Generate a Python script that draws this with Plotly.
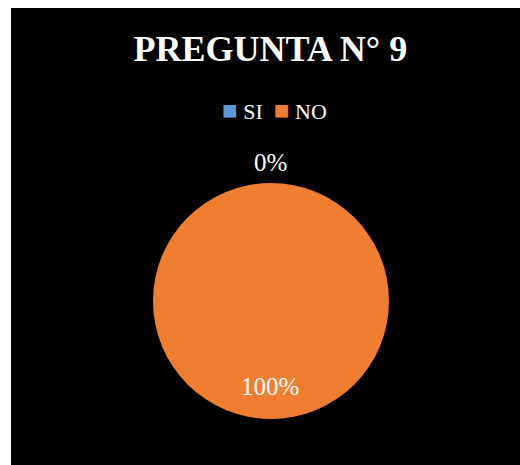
import plotly.graph_objects as go

# Survey answers for question 9
categories = ["SI", "NO"]
counts = [0, 100]
colors = ["#5B9BD5", "#EF7E30"]

W, H = 520, 465
total = sum(counts)
percents = [round(100 * c / total) for c in counts]

fig = go.Figure(
    go.Pie(
        labels=categories,
        values=counts,
        marker=dict(colors=colors, line=dict(width=0)),
        textinfo="none",
        sort=False,
        direction="clockwise",
        rotation=0,
        hoverinfo="label+percent",
        showlegend=False,
        domain=dict(x=[153 / W, 389 / W], y=[1 - 419 / H, 1 - 183 / H]),
    )
)

serif = "Liberation Serif, Times New Roman, serif"

# Black chart area with a thin white margin on the left and top
fig.add_shape(
    type="rect", xref="paper", yref="paper",
    x0=11 / W, x1=1.0, y0=0.0, y1=1 - 8 / H,
    fillcolor="black", line=dict(width=0), layer="below",
)

# Data labels: 0% above the pie, 100% near its lower edge
label_pos = [(0.52, 1 - 162 / H), (0.52, 1 - 386 / H)]
for p, (lx, ly) in zip(percents, label_pos):
    fig.add_annotation(
        x=lx, y=ly, xref="paper", yref="paper",
        xanchor="center", yanchor="middle",
        text=f"{p}%", showarrow=False,
        font=dict(family=serif, size=25, color="white"),
    )

# Compact legend: coloured square followed by the category name
legend_text = "  ".join(
    f"<span style='color:{c}; font-size:26px'>■</span> {name}"
    for name, c in zip(categories, colors)
)
fig.add_annotation(
    x=274 / W, y=1 - 110 / H, xref="paper", yref="paper",
    xanchor="center", yanchor="middle",
    text=legend_text, showarrow=False,
    font=dict(family=serif, size=22, color="white"),
)

fig.update_layout(
    width=W, height=H,
    margin=dict(l=0, r=0, t=0, b=0),
    paper_bgcolor="white",
    plot_bgcolor="black",
    title=dict(
        text="<b>PREGUNTA N° 9</b>",
        x=0.52, xanchor="center", xref="paper",
        y=1 - 48 / H, yanchor="middle", yref="paper",
        font=dict(family=serif, size=36, color="white"),
    ),
)

fig.write_html("out.html")
